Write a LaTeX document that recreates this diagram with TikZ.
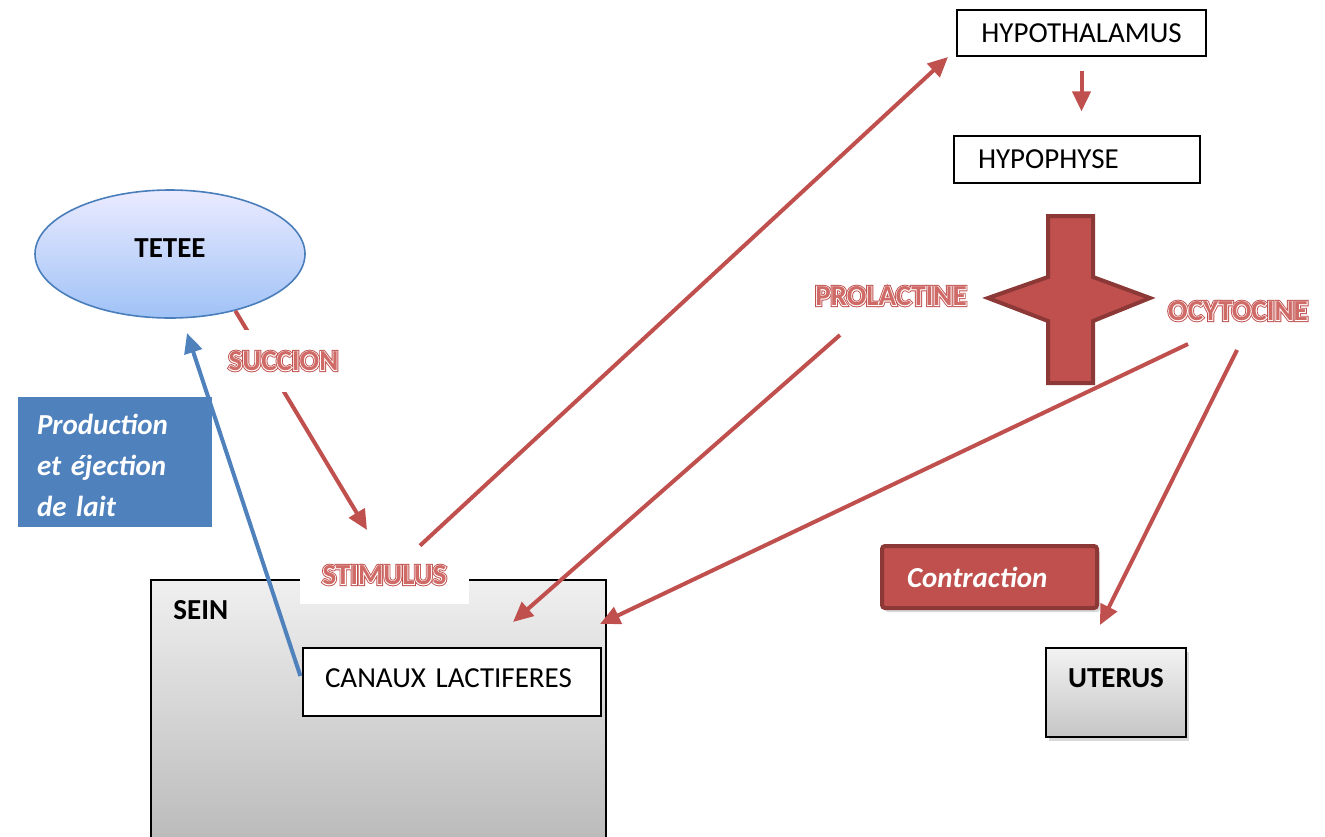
\documentclass[tikz,border=0pt]{standalone}
\usepackage{fontspec}
\setmainfont{Carlito}[WordSpace=0.7]
\usetikzlibrary{arrows.meta,shapes.geometric,shadows,calc}
\definecolor{myred}{HTML}{C0504D}
\definecolor{mycore}{HTML}{CF6A67}
\definecolor{mydarkred}{HTML}{8C3836}
\definecolor{myblue}{HTML}{4F81BD}
\definecolor{myblueline}{HTML}{4A7EBB}
\newcommand\outlinetxt[1]{\leavevmode
 \rlap{\special{pdf:literal direct 1 Tr 1.7 w}\color{myred}#1}%
 \rlap{\special{pdf:literal direct 1 Tr 0.8 w}\color{white}#1}%
 \special{pdf:literal direct 0 Tr}{\color{mycore}#1}}
\tikzset{
 base/.style={font=\fontsize{14.5}{17}\selectfont, inner sep=0pt},
 boldf/.style={font=\fontsize{14.5}{17}\selectfont\bfseries},
 plainbox/.style={base, draw=black, line width=0.6pt, fill=white},
 redlbl/.style={inner sep=0pt, font=\fontsize{14.5}{17}\selectfont\bfseries, text=myred},
 redarrow/.style={draw=myred, line width=2pt, -{Triangle[length=10pt,width=9pt]}},
 bluearrow/.style={draw=myblue, line width=2pt, -{Triangle[length=10pt,width=9pt]}},
 softshadow/.style={drop shadow={opacity=0.3, shadow xshift=1.5pt, shadow yshift=-2pt}},
}
\begin{document}
\begin{tikzpicture}[x=0.5pt,y=-0.5pt]
\useasboundingbox (0,0) rectangle (1325,836);
\clip (0,0) rectangle (1325,836);

% SEIN box
\node[draw=black, line width=0.8pt, top color=gray!12, bottom color=gray!55, minimum width=227.5pt, minimum height=135pt, inner sep=0pt] (sein) at (378.5,715) {};
\node[base, boldf, anchor=west] (seinlbl) at (173,610) {SEIN};

% boxes top right
\node[plainbox, minimum width=124.5pt, minimum height=23pt] (hypo) at (1081.5,33) {HYPOTHALAMUS};
\node[plainbox, minimum width=123pt, minimum height=23.5pt, text width=99pt, align=left, inner xsep=12pt] (hypoph) at (1077,159.5) {HYPOPHYSE};

% TETEE
\node[ellipse, draw=myblueline, line width=0.8pt, top color=blue!8!white, bottom color={rgb,255:red,160;green,194;blue,246}, minimum width=135pt, minimum height=64pt, inner sep=0pt, boldf, text depth=6pt] (tetee) at (170,254) {TETEE};

% Production box
\node[base, font=\fontsize{14.5}{20.5}\selectfont\bfseries\itshape, text=white, fill=myblue, draw=white, line width=4pt, minimum width=101pt, minimum height=69pt, text width=78pt, inner xsep=11.5pt, align=left, drop shadow={opacity=0.4, shadow xshift=1pt, shadow yshift=-2pt}] (prod) at (115,461.5) {\rule{0pt}{14.5pt}Production\\et éjection\\de lait};

% CANAUX
\node[plainbox, minimum width=149pt, minimum height=34pt, text width=127pt, inner xsep=11pt, align=left, text depth=4pt] (canaux) at (452,682) {CANAUX LACTIFERES};

% Cross shape
\draw[fill=myred, draw=mydarkred, line width=2pt, line join=miter]
 (1048,216) -- (1093,216) -- (1093,277) -- (1150,298) -- (1093,321) -- (1093,383)
 -- (1048,383) -- (1048,321) -- (988,298) -- (1048,277) -- cycle;

% hormone labels
\node[redlbl] (prol) at (891,296) {\outlinetxt{PROLACTINE}};
\node[redlbl] (ocy) at (1238,311) {\outlinetxt{OCYTOCINE}};

% Contraction
\node[base, font=\fontsize{14.5}{17}\selectfont\bfseries\itshape, text=white, fill=myred, draw=mydarkred, line width=2pt, rounded corners=1.5pt, minimum width=107.5pt, minimum height=31pt, text width=82.5pt, inner xsep=12.5pt, align=left, softshadow] (contr) at (989.5,577) {Contraction};

% UTERUS
\node[draw=black, line width=0.8pt, top color=gray!10, bottom color=gray!45, minimum width=70pt, minimum height=44.5pt, inner sep=0pt, boldf, text depth=15pt, softshadow] (uterus) at (1116,692.5) {UTERUS};

% free ends
\coordinate (stimtip) at (367,530);
\coordinate (teteetip) at (187,333);
\coordinate (hypotip) at (948,57);
\coordinate (prolout) at (840,335);
\coordinate (seintipA) at (513,622);
\coordinate (ocyoutA) at (1188,344);
\coordinate (seintipB) at (600,624);
\coordinate (ocyoutB) at (1237,350);
\coordinate (uterustip) at (1100,625);

% arrows
\draw[redarrow] (tetee.-41) -- (stimtip);
\node[redlbl, fill=white, minimum width=61.5pt, minimum height=31pt] (succ) at (283.5,361) {\outlinetxt{SUCCION}};

\draw[redarrow] (prolout) -- (seintipA);
\draw[redarrow] (ocyoutA) -- (seintipB);
\draw[redarrow] (ocyoutB) -- (uterustip);
\draw[redarrow, shorten <=7pt, shorten >=12pt] (hypo.south) -- (hypo.south |- hypoph.north);

\node[redlbl, fill=white, minimum width=84.5pt, minimum height=29pt] (stim) at (384.5,575) {\outlinetxt{STIMULUS}};
\draw[redarrow] ($(stim.north)+(35.5,0)$) -- (hypotip);

\draw[bluearrow] ($(canaux.west)+(-2,-6)$) -- (teteetip);
\end{tikzpicture}
\end{document}
